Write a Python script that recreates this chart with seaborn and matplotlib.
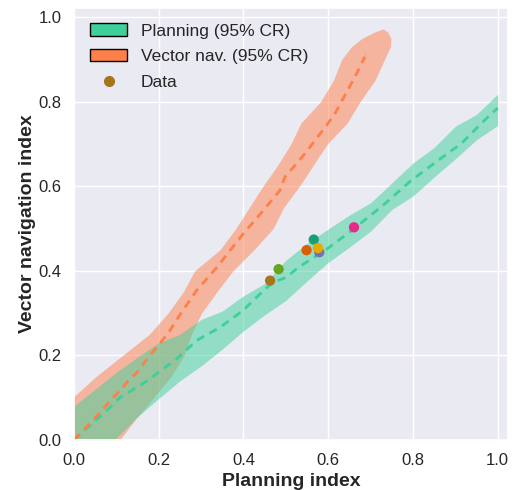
import numpy as np
import pandas as pd
import matplotlib
matplotlib.use("Agg")
import matplotlib.pyplot as plt
from matplotlib.patches import Patch
from matplotlib.lines import Line2D
import seaborn as sns

# colours
green = "#3dd09a"
orange = "#ff7f4a"

# planning credible region (filled in y along x)
plan_cr_x = [0.0, 0.05, 0.1, 0.15, 0.2, 0.25, 0.3, 0.35, 0.4, 0.45, 0.5,
             0.55, 0.6, 0.65, 0.7, 0.75, 0.8, 0.85, 0.9, 0.95, 1.0]
plan_cr_lo = [-0.12, -0.05, 0.005, 0.055, 0.098, 0.14, 0.175, 0.215, 0.258, 0.296, 0.33,
              0.376, 0.42, 0.456, 0.494, 0.545, 0.577, 0.622, 0.665, 0.71, 0.744]
plan_cr_hi = [0.08, 0.12, 0.16, 0.196, 0.23, 0.25, 0.285, 0.305, 0.341, 0.37, 0.425,
              0.465, 0.499, 0.532, 0.561, 0.608, 0.655, 0.692, 0.742, 0.77, 0.818]

# vector navigation credible region (filled in x along y)
vec_cr_y = [0.0, 0.05, 0.1, 0.15, 0.2, 0.25, 0.3, 0.35, 0.4, 0.45, 0.5, 0.55,
            0.6, 0.65, 0.7, 0.75, 0.8, 0.85, 0.9, 0.93, 0.95, 0.965, 0.972]
vec_cr_left = [-0.11, -0.055, -0.003, 0.052, 0.115, 0.178, 0.222, 0.258, 0.285, 0.345, 0.382, 0.414,
               0.446, 0.481, 0.512, 0.536, 0.582, 0.612, 0.632, 0.655, 0.68, 0.71, 0.73]
vec_cr_right = [0.108, 0.146, 0.188, 0.229, 0.26, 0.277, 0.301, 0.337, 0.375, 0.425, 0.47, 0.495,
                0.532, 0.565, 0.598, 0.645, 0.675, 0.71, 0.733, 0.747, 0.748, 0.74, 0.73]

# posterior median lines
plan_x = [0, 0.085, 0.108, 0.148, 0.179, 0.203, 0.242, 0.289, 0.344, 0.399, 0.447,
          0.47, 0.502, 0.529, 0.592, 0.655, 0.733, 0.796, 0.859, 0.914, 0.977, 1.0]
plan_y = [0, 0.077, 0.1, 0.124, 0.144, 0.163, 0.191, 0.235, 0.266, 0.306, 0.353,
          0.373, 0.385, 0.408, 0.448, 0.495, 0.558, 0.614, 0.661, 0.701, 0.764, 0.785]
vec_x = [0, 0.061, 0.085, 0.108, 0.128, 0.152, 0.175, 0.199, 0.226, 0.246, 0.289, 0.337,
         0.399, 0.447, 0.486, 0.498, 0.545, 0.596, 0.616, 0.635, 0.659, 0.671, 0.686, 0.686]
vec_y = [0, 0.064, 0.092, 0.116, 0.14, 0.163, 0.195, 0.223, 0.258, 0.29, 0.353, 0.408,
         0.487, 0.543, 0.59, 0.622, 0.677, 0.744, 0.772, 0.807, 0.851, 0.874, 0.894, 0.918]

# observed data (one colour per subject)
data_x = [0.566, 0.549, 0.579, 0.661, 0.483, 0.576, 0.463]
data_y = [0.474, 0.449, 0.444, 0.503, 0.404, 0.454, 0.377]
subjects = ["s1", "s2", "s3", "s4", "s5", "s6", "s7"]

sns.set_theme(style="darkgrid")
plt.rcParams["font.family"] = ["Liberation Sans", "DejaVu Sans"]

fig = plt.figure(figsize=(5.13, 4.9), dpi=100)
ax = fig.add_axes([0.144, 0.102, 0.846, 0.882])

ax.fill_betweenx(vec_cr_y, vec_cr_left, vec_cr_right, color=orange, alpha=0.5, lw=0)
ax.fill_between(plan_cr_x, plan_cr_lo, plan_cr_hi, color=green, alpha=0.5, lw=0)

sns.lineplot(x=plan_x, y=plan_y, sort=False, color=green, lw=2, ax=ax)
ax.lines[-1].set_dashes((3, 2.2))
sns.lineplot(x=vec_x, y=vec_y, sort=False, color=orange, lw=2, ax=ax)
ax.lines[-1].set_dashes((3, 2.2))

df = pd.DataFrame({"x": data_x, "y": data_y, "subject": subjects})
sns.scatterplot(data=df, x="x", y="y", hue="subject", palette="Dark2",
                s=55, linewidth=0, legend=False, ax=ax, zorder=5)

ax.set_xlim(0, 1.024)
ax.set_ylim(0, 1.022)
ax.set_xticks([0, 0.2, 0.4, 0.6, 0.8, 1.0])
ax.set_yticks([0, 0.2, 0.4, 0.6, 0.8, 1.0])
ax.tick_params(labelsize=12, pad=3)
ax.set_xlabel("Planning index", fontsize=14, fontweight="bold", labelpad=4)
ax.set_ylabel("Vector navigation index", fontsize=14, fontweight="bold", labelpad=1.5)

handles = [
    Patch(facecolor=green, edgecolor="black", label="Planning (95% CR)"),
    Patch(facecolor=orange, edgecolor="black", label="Vector nav. (95% CR)"),
    Line2D([], [], marker="o", ls="", color=sns.color_palette("Dark2")[6],
           markersize=7, label="Data"),
]
ax.legend(handles=handles, loc="upper left", frameon=False, fontsize=12.5,
          handlelength=2.1, labelspacing=0.6, bbox_to_anchor=(0.002, 1.0))

fig.savefig("out.png", dpi=100)
